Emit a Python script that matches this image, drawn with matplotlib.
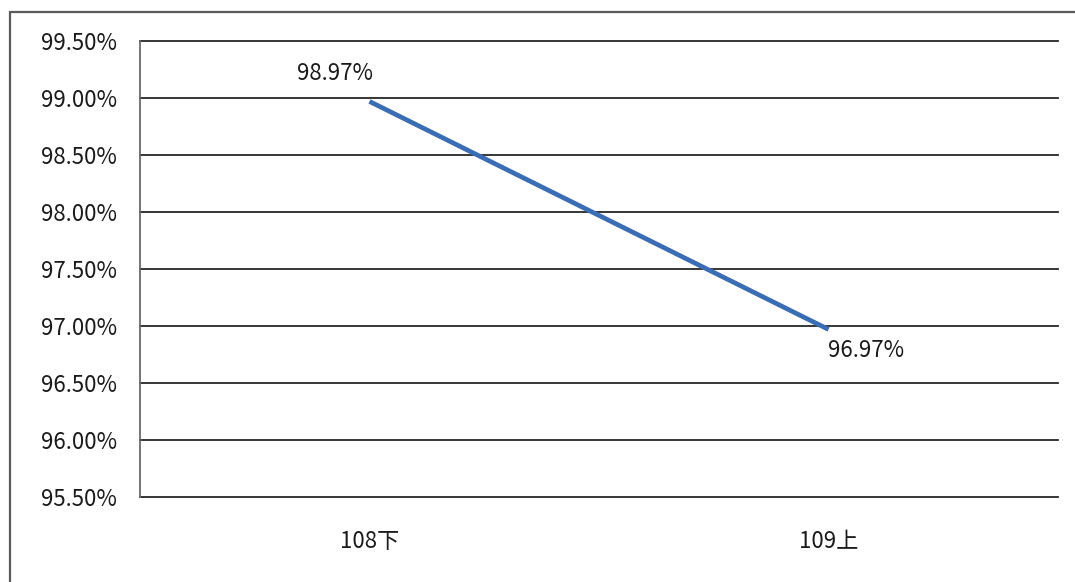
import matplotlib
matplotlib.use("Agg")
import matplotlib.pyplot as plt
from matplotlib.patches import Rectangle
from matplotlib.ticker import FuncFormatter, MultipleLocator

plt.rcParams['font.family'] = ['Noto Sans CJK TC', 'DejaVu Sans']

categories = ["108下", "109上"]
rates = [98.97, 96.97]
rate_labels = ["98.97%", "96.97%"]

W, H = 1075, 582
fig = plt.figure(figsize=(W / 100, H / 100), dpi=100)
fig.patch.set_facecolor("white")

# outer chart frame (runs off the right and bottom edges)
fig.patches.append(Rectangle((10 / W, -0.05), 1.2, 1 - 12 / H + 0.05,
                             transform=fig.transFigure, fill=False,
                             edgecolor="#5a5a5a", linewidth=1.6))

ax = fig.add_axes([140 / W, 1 - 497 / H, (1058 - 140) / W, (497 - 41) / H])
x = list(range(len(categories)))
ax.plot(x, rates, color="#3b6db5", linewidth=3.4, solid_capstyle="butt",
        zorder=3)

ax.set_xlim(-0.5, len(categories) - 0.5)
ax.set_ylim(95.5, 99.5)
ax.yaxis.set_major_locator(MultipleLocator(0.5))
ax.yaxis.set_major_formatter(FuncFormatter(lambda v, p: f"{v:.2f}%"))
ax.set_xticks(x)
ax.set_xticklabels(categories)
ax.tick_params(axis="both", length=0, labelsize=16, colors="#1a1a1a")
ax.tick_params(axis="y", pad=16.5)
ax.tick_params(axis="x", pad=24)
ax.grid(axis="y", color="#262626", linewidth=1.3)
for gl in ax.get_ygridlines():
    gl.set_clip_on(False)
ax.set_axisbelow(True)
for side in ("top", "right", "bottom"):
    ax.spines[side].set_visible(False)
ax.spines["left"].set_color("#6a6a6a")
ax.spines["left"].set_linewidth(1.3)

ax.annotate(rate_labels[0], (x[0], rates[0]), xytext=(-25, 20),
            textcoords="offset points", ha="center", va="center",
            fontsize=16, color="#1a1a1a")
ax.annotate(rate_labels[1], (x[1], rates[1]), xytext=(27, -15),
            textcoords="offset points", ha="center", va="center",
            fontsize=16, color="#1a1a1a")

fig.savefig("out.png", dpi=100)
